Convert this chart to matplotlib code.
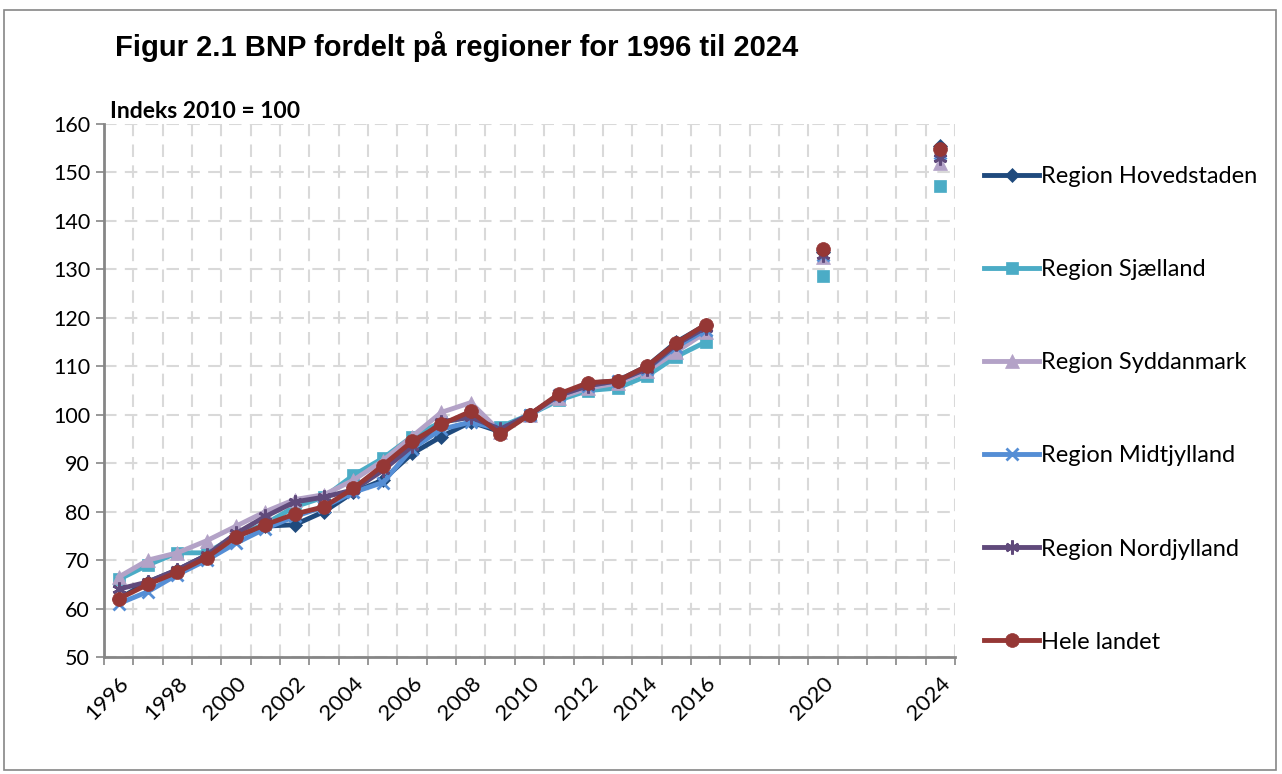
import numpy as np
import matplotlib
matplotlib.use("Agg")
import matplotlib.pyplot as plt
from matplotlib.patches import Rectangle
from matplotlib.ticker import FixedLocator, MultipleLocator

nan = np.nan
years = list(range(1996, 2025))
tick_labels = ["1996", "", "1998", "", "2000", "", "2002", "", "2004", "", "2006", "",
               "2008", "", "2010", "", "2012", "", "2014", "", "2016", "", "", "", "2020",
               "", "", "", "2024"]

hovedstaden = [62, 65.5, 68, 71, 75, 77, 77.3, 80, 84, 86.5, 92, 95.5, 98.5, 96.5, 100,
               104, 106.5, 107, 110, 115, 118.5, nan, nan, nan, 133.5, nan, nan, nan, 155.5]
sjaelland = [66, 69, 71.5, 71.5, 75, 77.5, 81, 83, 87.5, 91, 95.5, 98.5, 99.5, 97.5, 100,
             103, 105, 105.5, 108, 112, 115, nan, nan, nan, 128.7, nan, nan, nan, 147.3]
syddanmark = [66.5, 70, 71.5, 74, 77, 80, 82.5, 83.5, 86.5, 90.5, 95.5, 100.5, 102.5, 96.5, 100,
              103.5, 105.5, 106.5, 109, 113, 117, nan, nan, nan, 132.5, nan, nan, nan, 152]
midtjylland = [61, 63.5, 67, 70, 73.5, 76.5, 79, 81, 84, 86, 93, 97, 98.5, 97, 100,
               104, 106, 107, 109.5, 114, 117.5, nan, nan, nan, 133, nan, nan, nan, 154]
nordjylland = [64, 65.5, 68, 71, 75.5, 79, 82, 83, 84.5, 88.5, 93.5, 98.5, 99.5, 97, 100,
               104, 106, 107, 109.5, 114.5, 118, nan, nan, nan, 133, nan, nan, nan, 153]
hele_landet = [62, 65, 67.5, 70.5, 74.8, 77.3, 79.5, 81, 84.8, 89.5, 94.5, 98, 100.7, 96, 100,
               104.3, 106.6, 107, 110, 114.8, 118.6, nan, nan, nan, 134.3, nan, nan, nan, 154.8]

series = [
    ("Region Hovedstaden", hovedstaden, "#1F4A7D", "D", 7),
    ("Region Sjælland", sjaelland, "#4BACC6", "s", 9),
    ("Region Syddanmark", syddanmark, "#B3A2C7", "^", 10),
    ("Region Midtjylland", midtjylland, "#558ED5", "x", 9),
    ("Region Nordjylland", nordjylland, "#604A7B", (6, 2, 0), 10),
    ("Hele landet", hele_landet, "#953735", "o", 10),
]

fig = plt.figure(figsize=(12.82, 7.74), dpi=100)
fig.patches.append(Rectangle((4 / 1282, 4 / 774), 1272 / 1282, 760 / 774,
                             transform=fig.transFigure, fill=False,
                             edgecolor="#868686", linewidth=1.2))
ax = fig.add_axes([104 / 1282, 1 - 657 / 774, (955 - 104) / 1282, (657 - 124) / 774])

x = np.arange(len(years))
for name, vals, color, marker, ms in series:
    kw = dict(markeredgewidth=2) if marker in ("x",) or isinstance(marker, tuple) else dict(markeredgewidth=0.5)
    ax.plot(x, vals, color=color, linewidth=3.5, marker=marker, markersize=ms,
            markerfacecolor=color, markeredgecolor=color, label=name, **kw)

ax.set_xlim(-0.5, len(years) - 0.5)
ax.set_ylim(50, 160)
ax.yaxis.set_major_locator(MultipleLocator(10))
ax.set_xticks(x)
ax.set_xticklabels(tick_labels, rotation=45, ha="right", rotation_mode="anchor",
                   fontsize=16, family="Lato")
ax.xaxis.set_minor_locator(FixedLocator(np.arange(-0.5, len(years), 1)))
ax.tick_params(axis="x", which="major", length=0, pad=12)
ax.tick_params(axis="x", which="minor", length=6, width=1.2, color="#868686", direction="out")
ax.tick_params(axis="y", which="major", length=6, width=1.2, color="#868686", direction="out",
               labelsize=15.5, pad=4)
for lab in ax.get_yticklabels():
    lab.set_family("Lato")

ax.grid(True, which="minor", axis="x", linestyle=(0, (6, 4)), color="#D9D9D9", linewidth=1.5)
ax.grid(True, which="major", axis="y", linestyle=(0, (6, 4)), color="#D9D9D9", linewidth=1.5)
ax.set_axisbelow(True)
for s in ("top", "right"):
    ax.spines[s].set_visible(False)
for s in ("left", "bottom"):
    ax.spines[s].set_color("#868686")
    ax.spines[s].set_linewidth(2)

fig.text(115 / 1282, 1 - 47 / 774, "Figur 2.1 BNP fordelt på regioner for 1996 til 2024",
         fontsize=21, fontweight="bold", family="Liberation Sans", va="center", ha="left")
ax.text(110 / 1282, 1 - 112 / 774, "Indeks 2010 = 100", transform=fig.transFigure,
        fontsize=16.5, fontweight="bold", family="Lato", va="center", ha="left")

leg = ax.legend(loc="upper left", bbox_to_anchor=(975 / 1282, 1 - 157 / 774),
                bbox_transform=fig.transFigure, frameon=False, prop={"family": "Lato", "size": 17},
                labelspacing=3.05, handlelength=2.3, handletextpad=0.1, borderaxespad=0)

fig.savefig("out.png", dpi=100)
